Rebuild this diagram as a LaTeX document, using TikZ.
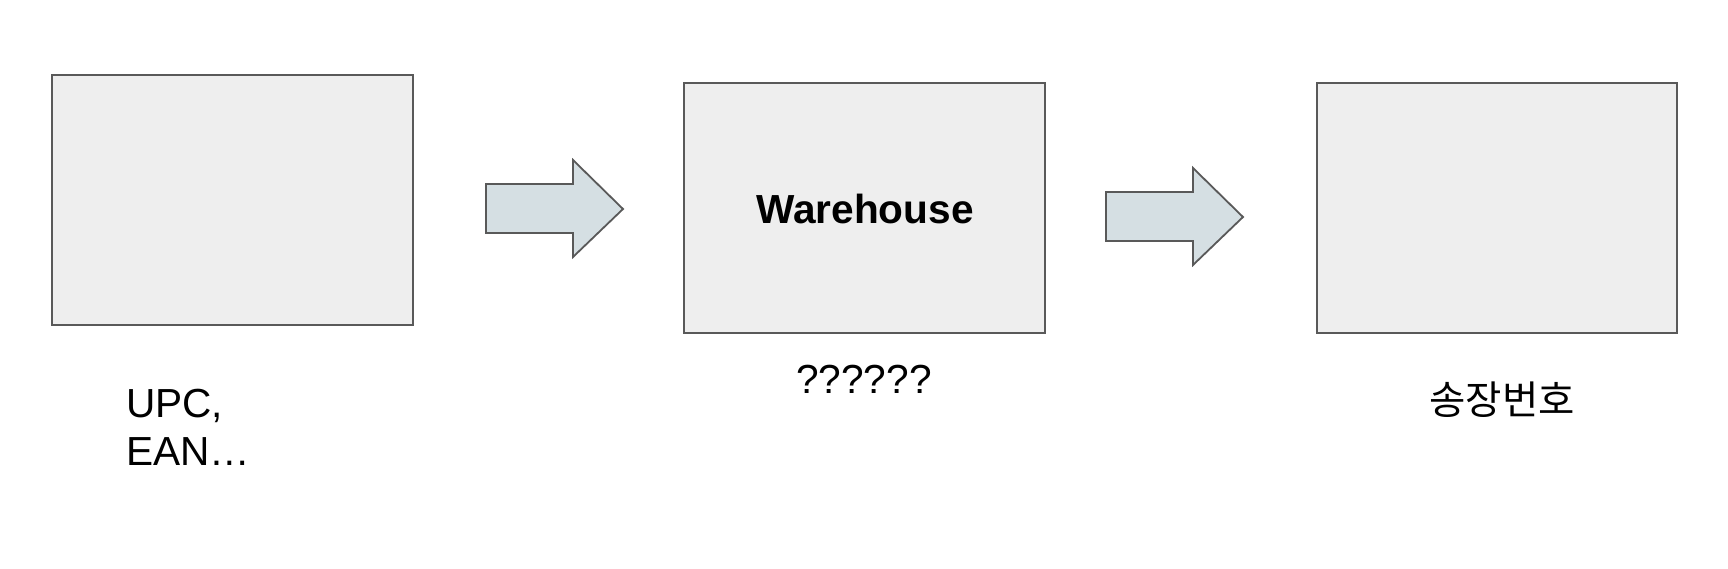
\documentclass[tikz,border=0pt]{standalone}
\usepackage{fontspec}
\setmainfont{Liberation Sans}
\newfontfamily\krfont{Noto Sans CJK KR}
\definecolor{boxline}{HTML}{595959}
\definecolor{boxfill}{HTML}{EEEEEE}
\definecolor{arrfill}{HTML}{D5DFE3}
\begin{document}
\begin{tikzpicture}[x=1pt,y=-1pt,
  box/.style={draw=boxline,fill=boxfill,line width=1.8pt},
  bigarrow/.style={draw=boxline,fill=arrfill,line width=1.8pt,line join=miter},
  lbl/.style={inner sep=0pt,font=\fontsize{40.6}{45}\selectfont}]
\useasboundingbox (0,0) rectangle (1728,568);
\draw[box] (52,75) rectangle (413,325);
\draw[box] (684,83) rectangle (1045,333);
\draw[box] (1317,83) rectangle (1677,333);
\draw[bigarrow] (486,184) -- (573,184) -- (573,160) -- (623,209) -- (573,257) -- (573,233) -- (486,233) -- cycle;
\draw[bigarrow] (1106,192) -- (1193,192) -- (1193,168) -- (1243,217) -- (1193,265) -- (1193,241) -- (1106,241) -- cycle;
\node[lbl,anchor=base,font=\fontsize{40.6}{45}\selectfont\bfseries] (wh) at (865,223) {Warehouse};
\node[lbl,anchor=base] (q) at (864,393) {??????};
\node[lbl,anchor=base west] (upc) at (126,417) {UPC,};
\node[lbl,anchor=base west] (ean) at (126,465) {EAN…};
\node[lbl,anchor=base,font=\fontsize{39.5}{44}\krfont] (kr) at (1502,414) {송장번호};
\end{tikzpicture}
\end{document}
